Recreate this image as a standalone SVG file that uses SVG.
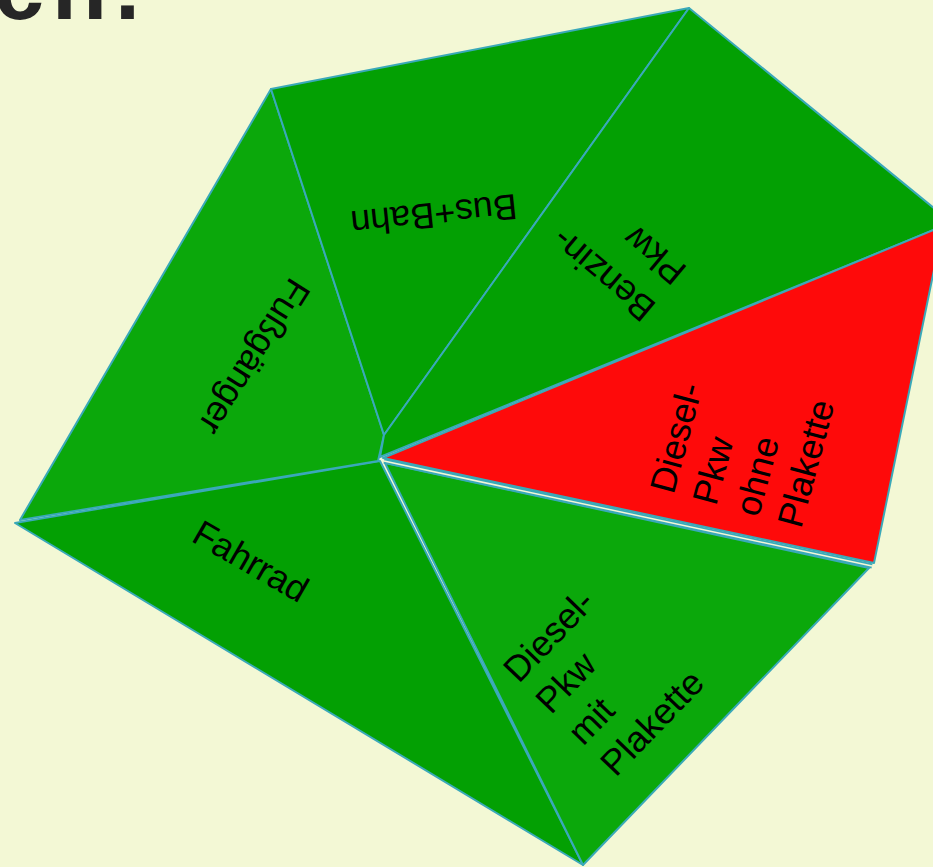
<svg xmlns="http://www.w3.org/2000/svg" width="933" height="867" viewBox="0 0 933 867">
<style>
.seg{stroke:#3aa9b9;stroke-width:2;stroke-linejoin:round}
.g1{fill:#0ba80b}
.g2{fill:#03a003}
.red{fill:#fe0a0a}
.lbl{font-family:"Liberation Sans",Arial,sans-serif;font-size:36px;fill:#000}
</style>
<rect width="933" height="867" fill="#f3f8d5"/>
<text x="-6" y="19" font-family="'Liberation Sans',Arial,sans-serif" font-weight="700" font-size="90" letter-spacing="8" fill="#262626">ch.</text>
<g id="fahrrad">
<polygon class="seg g2" points="15,523 380,461 583,865"/>
<text class="lbl" transform="translate(196,530) rotate(30)" y="12">Fahrrad</text>
</g>
<g id="fussgaenger">
<polygon class="seg g1" points="20,520 271,89 384,435 378,461"/>
<text class="lbl" transform="translate(301,282) rotate(122)" y="12">Fußgänger</text>
</g>
<g id="busbahn">
<polygon class="seg g2" points="271,89 689,8 384,435"/>
<text class="lbl" transform="translate(517,206) rotate(174)" y="12">Bus+Bahn</text>
</g>
<g id="benzin">
<polygon class="seg g2" points="689,8 946,218 946,225 380,457 384,435"/>
<text class="lbl" transform="translate(650,314) rotate(220)"><tspan x="0" y="12">Benzin-</tspan><tspan x="0" y="60">Pkw</tspan></text>
</g>
<g id="diesel-ohne">
<polygon class="seg red" points="383,458 943,226 874,563"/>
<text class="lbl" transform="translate(662,492) rotate(-75)"><tspan x="0" y="12">Diesel-</tspan><tspan x="0" y="56">Pkw</tspan><tspan x="0" y="100">ohne</tspan><tspan x="0" y="144">Plakette</tspan></text>
</g>
<g id="diesel-mit">
<polygon class="seg g1" points="385,463 869,568 583,865"/>
<text class="lbl" transform="translate(510,676) rotate(-46)"><tspan x="0" y="12">Diesel-</tspan><tspan x="0" y="57">Pkw</tspan><tspan x="0" y="102">mit</tspan><tspan x="0" y="147">Plakette</tspan></text>
</g>
<g id="connectors">
<line x1="384" y1="461" x2="872" y2="566" stroke="#3aa9b9" stroke-width="5"/>
<line x1="384" y1="461" x2="872" y2="566" stroke="#f3f8d5" stroke-width="1.5"/>
</g>
</svg>
